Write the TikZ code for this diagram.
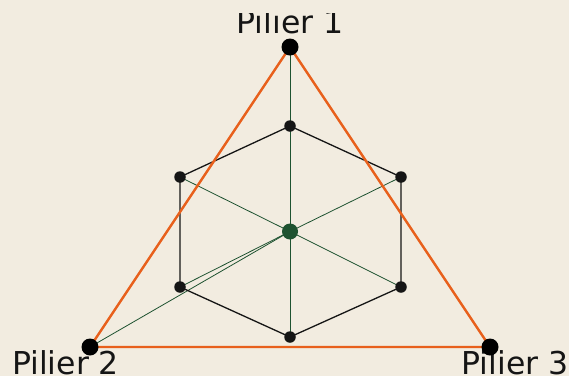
\documentclass[tikz,border=0pt]{standalone}
\usepackage{fontspec}
\setmainfont{DejaVu Sans}
\definecolor{bg}{HTML}{F2ECE0}
\definecolor{tri}{HTML}{E8601C}
\definecolor{grn}{HTML}{1E5230}
\definecolor{ink}{HTML}{151515}
\begin{document}
\begin{tikzpicture}[x=1pt,y=-1pt,
  spoke/.style={draw=grn,line width=0.8pt},
  hexedge/.style={draw=ink,line width=1.3pt},
  triedge/.style={draw=tri,line width=2.4pt,line join=round},
  bigdot/.style={circle,fill=black,inner sep=0pt,minimum size=17pt},
  smalldot/.style={circle,fill=ink,inner sep=0pt,minimum size=11.5pt},
  cdot/.style={circle,fill=grn,inner sep=0pt,minimum size=16pt},
  lbl/.style={font=\fontsize{31.5}{38}\selectfont,text=ink,anchor=base,inner sep=0pt}]
\fill[bg] (0,0) rectangle (569,376);
\useasboundingbox (0,0) rectangle (569,376);
% coordinates
\coordinate (P1) at (290,47);
\coordinate (P2) at (90,347);
\coordinate (P3) at (490,347);
\coordinate (C) at (290,231.5);
\coordinate (H1) at (290,126);
\coordinate (H2) at (401,177);
\coordinate (H3) at (401,287);
\coordinate (H4) at (290,337);
\coordinate (H5) at (180,287);
\coordinate (H6) at (180,177);
% labels
\begin{scope}
\clip (0,13) rectangle (569,376);
\node[lbl] (L1) at (290,33.5) {Pilier 1};
\end{scope}
\node[lbl] (L2) at (65.5,374) {Pilier 2};
\node[lbl] (L3) at (515,374) {Pilier 3};
% spokes
\foreach \h in {H2,H3,H4,H5,H6} \path[spoke] (C) -- (\h);
\path[spoke] (C) -- (P1);
\path[spoke] (C) -- (P2);
% hexagon
\path[hexedge] (H1) -- (H2) -- (H3) -- (H4) -- (H5) -- (H6) -- cycle;
% triangle
\path[triedge] (P1) -- (P2) -- (P3) -- cycle;
% dots
\foreach \h in {H1,H2,H3,H4,H5,H6} \node[smalldot] (d\h) at (\h) {};
\node[cdot] (dC) at (C) {};
\node[bigdot] (dP1) at (P1) {};
\node[bigdot] (dP2) at (P2) {};
\node[bigdot] (dP3) at (P3) {};
\end{tikzpicture}
\end{document}
